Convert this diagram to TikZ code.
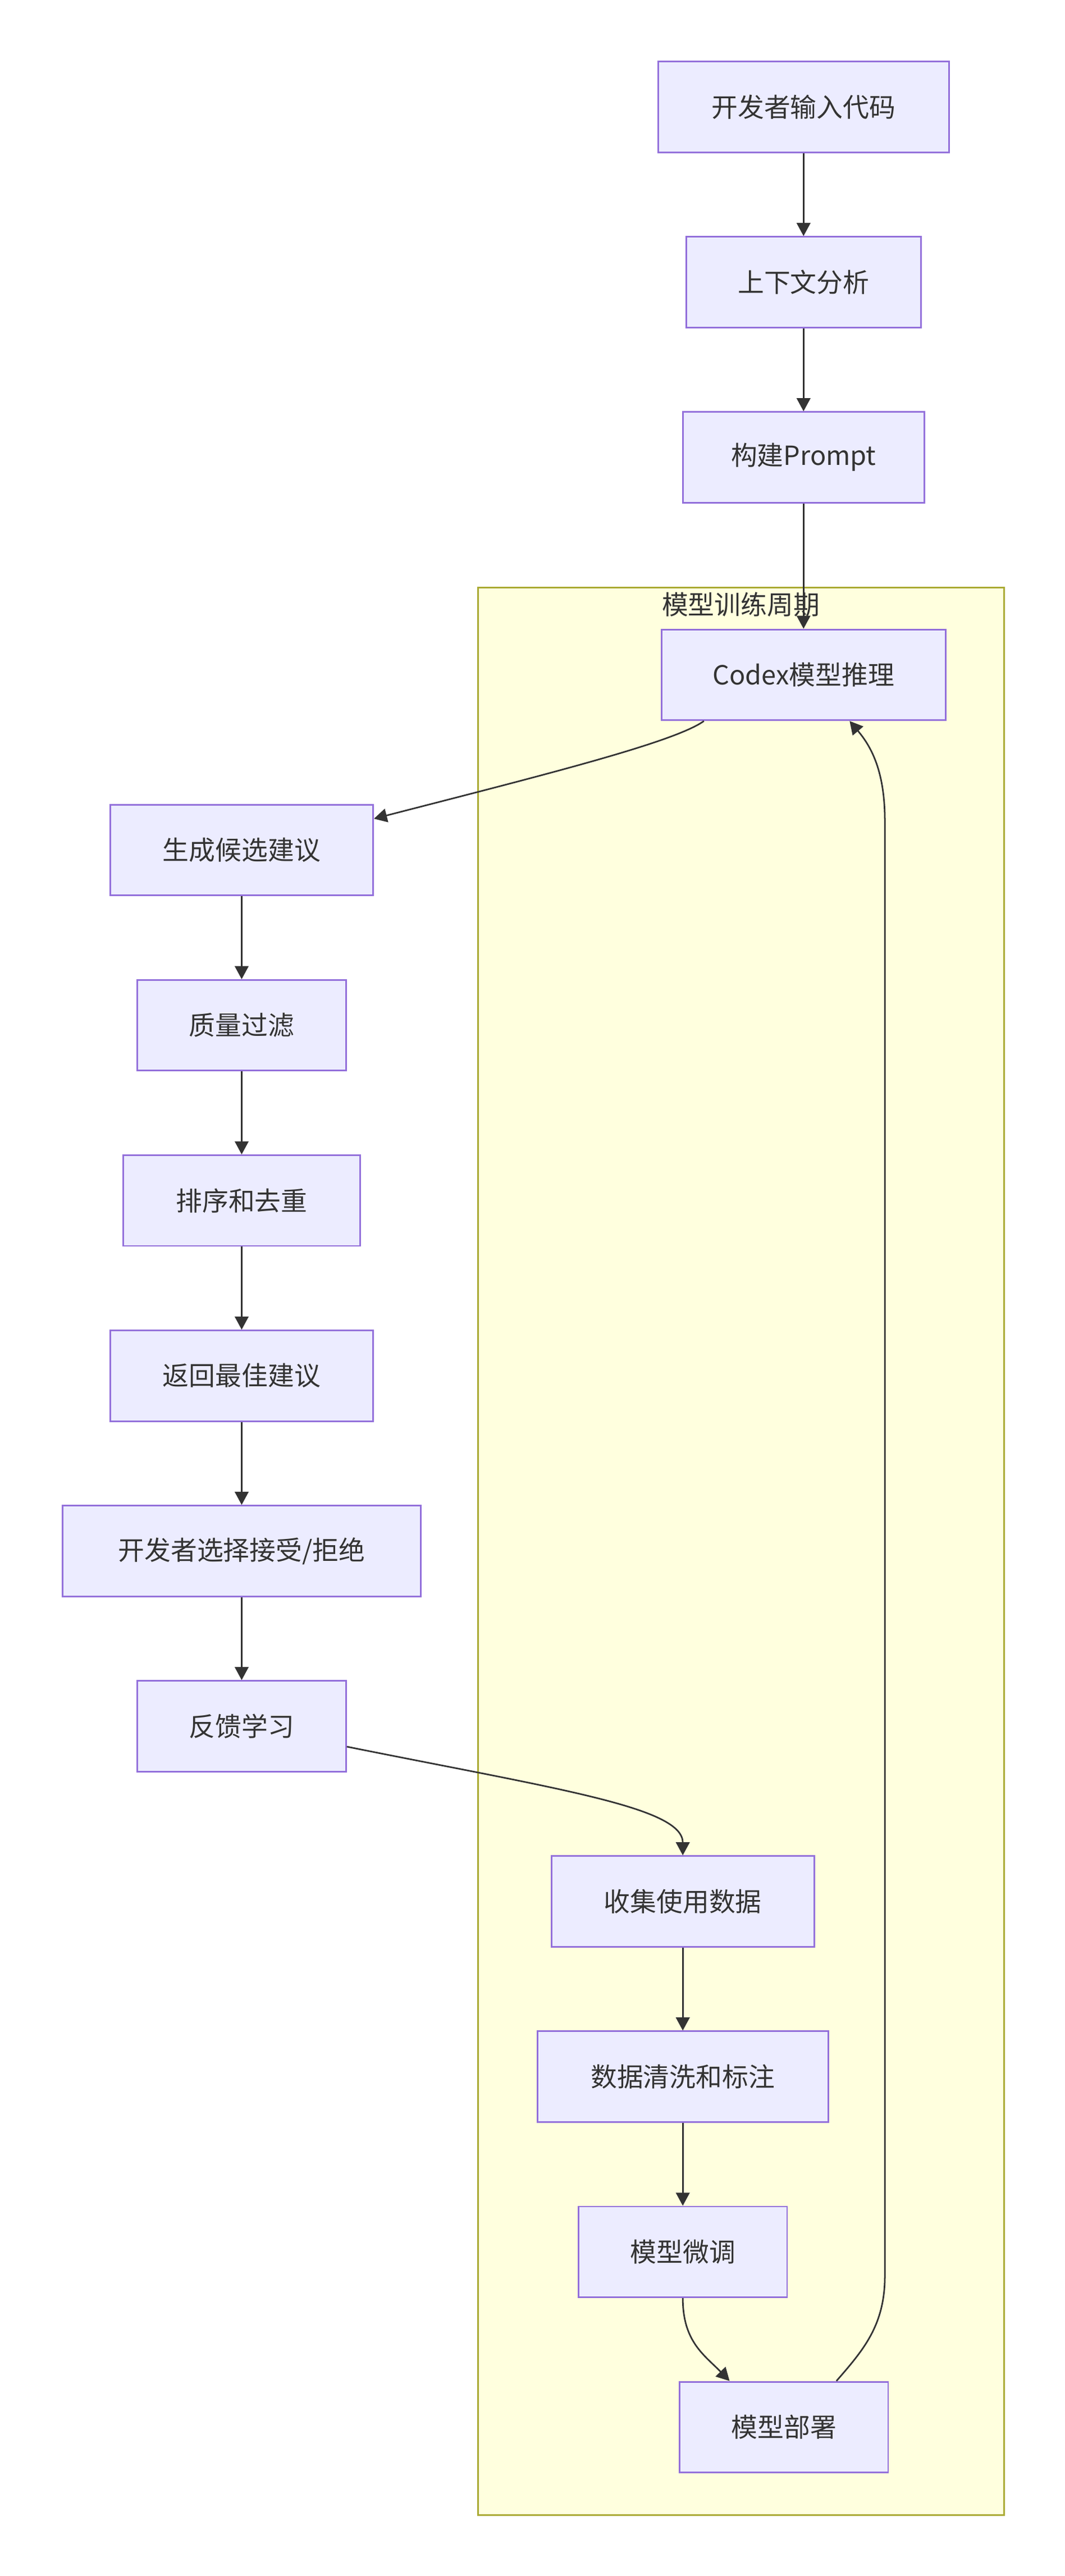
\documentclass[tikz,border=0pt]{standalone}
\usepackage{fontspec}
\setmainfont{Noto Sans CJK SC}
\usetikzlibrary{arrows.meta}
\definecolor{nodefill}{HTML}{ECECFF}
\definecolor{nodeline}{HTML}{9370DB}
\definecolor{clfill}{HTML}{FFFFDE}
\definecolor{clline}{HTML}{AAAA33}
\definecolor{edgecol}{HTML}{333333}
\begin{document}
\begin{tikzpicture}[x=1.0058pt,y=-1.00623pt,
  box/.style={draw=nodeline, fill=nodefill, line width=1pt, minimum height=55.5pt,
    inner sep=0pt, text=edgecol, font=\fontsize{16.1}{19}\selectfont},
  link/.style={draw=edgecol, line width=0.95pt, -{Triangle[length=8pt,width=8.4pt]}}]
\useasboundingbox (0pt,0pt) rectangle (652pt,-1576.9pt);
\fill[white] (0pt,0pt) rectangle (652pt,-1576.9pt);
\begin{scope}[xshift=0.6pt,yshift=0.44pt]
% cluster
\node[draw=clline, fill=clfill, line width=1pt, minimum width=321.8pt,
  minimum height=1179.9pt, inner sep=0pt, anchor=north west] (cl) at (290,357.4) {};
\node[text=edgecol, font=\fontsize{16.1}{19}\selectfont, inner sep=0pt] (clt) at (450.35,368.3) {模型训练周期};
% nodes
\node[box, minimum width=178pt] (n1) at (488.5,65.5) {开发者输入代码};
\node[box, minimum width=143.8pt] (n2) at (488.5,172.1) {上下文分析};
\node[box, minimum width=147.9pt] (n3) at (488.5,278.7) {构建Prompt};
\node[box, minimum width=174pt] (n4) at (488.5,411) {Codex模型推理};
\node[box, minimum width=160.9pt] (n5) at (146.5,517.6) {生成候选建议};
\node[box, minimum width=127.7pt] (n6) at (146.5,624.2) {质量过滤};
\node[box, minimum width=144.8pt] (n7) at (146.5,730.8) {排序和去重};
\node[box, minimum width=160.9pt] (n8) at (146.5,837.4) {返回最佳建议};
\node[box, minimum width=219.3pt] (n9) at (146.5,944) {开发者选择接受/拒绝};
\node[box, minimum width=127.7pt] (n10) at (146.5,1050.6) {反馈学习};
\node[box, minimum width=160.9pt] (n11) at (415,1157.2) {收集使用数据};
\node[box, minimum width=178pt] (n12) at (415,1263.8) {数据清洗和标注};
\node[box, minimum width=127.7pt] (n13) at (415,1370.4) {模型微调};
\node[box, minimum width=127.7pt] (n14) at (476.5,1477) {模型部署};
% edges
\draw[link] (n1) -- (n2);
\draw[link] (n2) -- (n3);
\draw[link] (n3) -- (n4);
\draw[link] ([xshift=-61pt]n4.south) .. controls (410,452) and (330,472) .. ([yshift=19.2pt]n5.east);
\draw[link] (n5) -- (n6);
\draw[link] (n6) -- (n7);
\draw[link] (n7) -- (n8);
\draw[link] (n8) -- (n9);
\draw[link] (n9) -- (n10);
\draw[link] ([yshift=-12.5pt]n10.east) .. controls (340,1089) and (415,1100) .. (n11.north);
\draw[link] (n11) -- (n12);
\draw[link] (n12) -- (n13);
\draw[link] (n13.south) .. controls (415,1425) and (428,1433) .. ([xshift=-33.2pt]n14.north);
\draw[link] ([xshift=32.2pt]n14.north) .. controls (525,1430) and (538,1415) .. (538,1385)
  -- (538,500) .. controls (538,470) and (530,455) .. ([xshift=28.2pt]n4.south);
\end{scope}
\end{tikzpicture}
\end{document}
